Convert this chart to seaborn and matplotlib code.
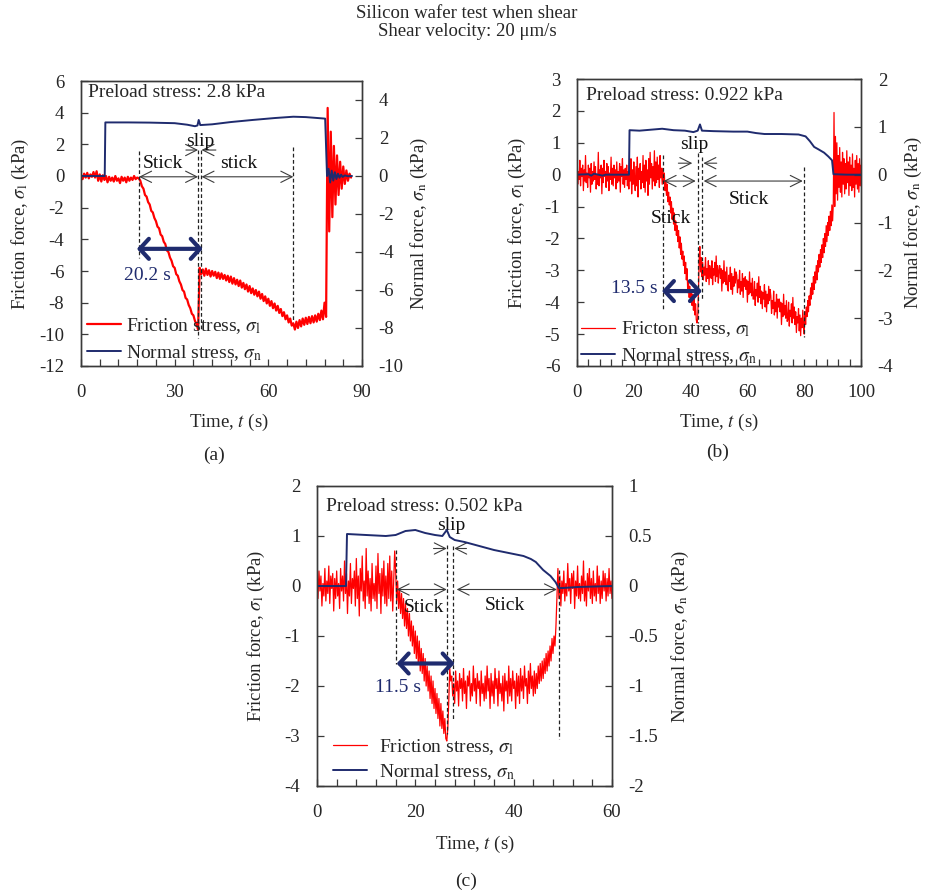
import numpy as np
import matplotlib
matplotlib.use("Agg")
import matplotlib.pyplot as plt
from matplotlib.ticker import MultipleLocator, FuncFormatter
import seaborn as sns

sns.set_theme(style="ticks")
plt.rcParams.update({
    "font.family": ["Liberation Serif", "DejaVu Serif"],
    "mathtext.fontset": "stix",
    "axes.unicode_minus": False,
    "font.size": 13.5,
})

# ---------------------------------------------------------------- data
# (a) preload 2.8 kPa, friction stress sampled every 0.5 s
fric_a = [
    0.05, -0.2, 0.15, -0.1, 0.2, -0.15, 0.1, -0.05, 0.25, -0.1,
    0.3, -0.3, 0.1, -0.35, 0.05, -0.25, 0.0, -0.4, -0.05, -0.3,
    -0.1, -0.35, 0.0, -0.3, -0.15, -0.45, -0.05, -0.3, -0.1, -0.4,
    -0.05, -0.3, -0.1, -0.25, 0.0, -0.2, -0.1, -0.15,
    -0.3, -0.65, -0.8, -1.2, -1.3, -1.65, -1.8, -2.2, -2.3, -2.65,
    -2.85, -3.2, -3.3, -3.7, -3.8, -4.15, -4.3, -4.7, -4.8, -5.15,
    -5.35, -5.7, -5.8, -6.2, -6.3, -6.65, -6.85, -7.2, -7.3, -7.7,
    -7.8, -8.15, -8.35, -8.7, -8.8, -9.15, -9.35, -9.7,
    -5.8, -6.2, -5.9, -6.3, -5.85, -6.25, -5.95, -6.35, -6.0, -6.3,
    -6.05, -6.45, -6.1, -6.5, -6.15, -6.5, -6.25, -6.6, -6.3, -6.7,
    -6.35, -6.8, -6.45, -6.85, -6.55, -6.95, -6.6, -7.05, -6.75, -7.15,
    -6.85, -7.3, -6.95, -7.4, -7.1, -7.5, -7.2, -7.6, -7.3, -7.75,
    -7.45, -7.9, -7.6, -8.05, -7.75, -8.2, -7.9, -8.35, -8.05, -8.5,
    -8.2, -8.65, -8.4, -8.85, -8.6, -9.05, -8.8, -9.25, -9.0, -9.45,
    -9.3, -9.7, -9.2, -9.6, -9.1, -9.5, -9.0, -9.4, -8.95, -9.35,
    -8.9, -9.3, -8.85, -9.25, -8.8, -9.2, -8.7, -9.1, -8.5, -9.05,
    -8.0, -8.9,
    4.3, -3.5, 2.8, -2.6, 1.9, -1.8, 1.3, -1.2, 0.9, -0.8,
    0.6, -0.5, 0.35, -0.3, 0.15, -0.1,
]
norm_t_a = [0, 7.6, 7.8, 15, 22, 30, 34, 36.5, 37.3, 37.7, 38.2, 42, 48, 55,
            62, 68, 72, 78.2, 78.8, 79.3, 79.8, 80.3, 80.8, 81.3, 81.8, 82.3,
            82.8, 83.3, 83.8, 84.5, 85.5, 86.8]
norm_a = [0, 0, 2.82, 2.82, 2.81, 2.78, 2.7, 2.62, 2.66, 2.95, 2.68, 2.72,
          2.84, 2.95, 3.05, 3.12, 3.1, 3.02, 0.0, 0.38, -0.34, 0.28, -0.24,
          0.2, -0.16, 0.12, -0.09, 0.07, -0.05, 0.03, -0.01, 0.0]

# (b) preload 0.922 kPa, friction stress sampled every 0.25 s
fric_b = [
    # 0 - 18 s, before contact loading
    0.25, -0.3, 0.1, -0.15, 0.45, -0.35, 0.2, -0.05, 0.3, -0.5, 0.15, -0.2,
    0.6, -0.25, 0.05, -0.4, 0.3, -0.1, 0.2, -0.55, 0.35, -0.3, 0.1, -0.2,
    0.4, -0.15, 0.25, -0.45, 0.0, -0.3, 0.7, -0.35, 0.15, -0.1, 0.3, -0.6,
    0.2, -0.25, 0.45, -0.05, 0.1, -0.4, 0.35, -0.2, 0.25, -0.5, 0.05, -0.15,
    0.55, -0.3, 0.2, -0.35, 0.3, -0.1, 0.15, -0.45, 0.4, -0.25, 0.1, -0.2,
    0.35, -0.55, 0.25, -0.05, 0.5, -0.3, 0.15, -0.4, 0.2, -0.15, 0.3, -0.35,
    0.1,
    # 18.25 - 30 s
    -0.45, 0.3, -0.2, 0.5, -0.6, 0.15, -0.3, 0.4, -0.1, -0.5, 0.25, -0.35,
    0.55, -0.7, 0.2, -0.15, 0.35, -0.45, 0.1, -0.25, 0.6, -0.4, 0.3, -0.55,
    0.45, -0.2, 0.15, -0.65, 0.5, -0.3, 0.7, -0.1, 0.35, -0.45, 0.25, -0.2,
    0.75, -0.35, 0.4, -0.25, 0.55, -0.15, 0.3, -0.4, 0.6, -0.1, 0.2, -0.3,
    # 30.25 - 42.25 s, first stick
    0.2, -0.25, 0.05, -0.5, -0.2, -0.65, -0.3, -0.85, -0.55, -0.95, -0.7, -1.2,
    -0.85, -1.4, -1.05, -1.55, -1.2, -1.75, -1.45, -1.9, -1.6, -2.1, -1.75, -2.3,
    -1.95, -2.5, -2.15, -2.65, -2.4, -2.85, -2.55, -3.1, -2.75, -3.3, -2.95, -3.7,
    -3.35, -3.85, -3.5, -3.95, -3.6, -4.1, -3.75, -4.25, -3.9, -4.4, -4.05, -4.55,
    -4.65,
    # 42.5 - 44 s, slip
    -4.5, -3.7, -2.7, -2.25, -3.05, -2.6, -3.2,
    # 44.25 - 80 s, second stick
    -2.75, -3.3, -2.9, -3.15, -2.6, -3.35, -2.95, -3.25, -2.7, -3.45, -2.85, -3.1,
    -3.25, -2.7, -3.45, -2.95, -3.15, -2.75, -3.35, -2.55, -3.2, -2.85, -3.4, -3.0,
    -2.85, -3.25, -2.95, -3.65, -3.0, -3.4, -2.7, -3.35, -3.05, -3.45, -2.9, -3.55,
    -3.65, -3.15, -3.35, -2.9, -3.6, -3.1, -3.75, -3.2, -3.5, -2.95, -3.4, -3.05,
    -3.15, -3.7, -3.3, -3.55, -3.0, -3.75, -3.35, -3.65, -3.1, -3.85, -3.25, -3.5,
    -3.2, -3.6, -3.3, -4.0, -3.35, -3.75, -3.05, -3.7, -3.4, -3.8, -3.25, -3.9,
    -3.9, -3.35, -4.1, -3.6, -3.8, -3.4, -4.0, -3.2, -3.85, -3.5, -4.05, -3.65,
    -4.2, -3.7, -3.9, -3.45, -4.15, -3.65, -4.3, -3.75, -4.05, -3.5, -3.95, -3.6,
    -3.8, -4.35, -3.95, -4.2, -3.65, -4.4, -4.0, -4.3, -3.75, -4.5, -3.9, -4.15,
    -3.9, -4.3, -4.0, -4.7, -4.05, -4.45, -3.75, -4.4, -4.1, -4.5, -3.95, -4.6,
    -4.55, -4.0, -4.75, -4.25, -4.45, -4.05, -4.65, -3.85, -4.5, -4.15, -4.7, -4.3,
    -4.95, -4.45, -4.65, -4.2, -4.9, -4.4, -5.05, -4.5, -4.8, -4.25, -4.7, -5.0,
    # 80.25 - 90.25 s, unloading
    -4.3, -4.7, -4.15, -4.45, -3.95, -4.3, -3.8, -4.1, -3.55, -3.9, -3.4, -3.75,
    -3.2, -3.6, -3.05, -3.4, -2.85, -3.3, -2.7, -3.05, -2.5, -2.9, -2.35, -2.75,
    -2.2, -2.6, -2.0, -2.45, -1.85, -2.25, -1.6, -2.1, -1.5, -1.9, -1.3, -1.75,
    -1.15, -1.6, -0.95, -1.45, -0.9,
    # 90.5 - 100 s, released
    1.95, -1.0, 1.2, -0.6, 1.0, -0.8, 0.6, -0.4, 0.85, -0.55, 0.4, -0.7,
    0.7, -0.3, 0.5, -0.6, 0.35, -0.45, 0.75, -0.25, 0.4, -0.65, 0.55, -0.35,
    0.3, -0.5, 0.65, -0.4, 0.2, -0.7, 0.45, -0.3, 0.6, -0.45, 0.35, -0.55,
    0.5, -0.35, 0.3,
]
norm_t_b = [0, 4, 5, 6, 9, 10, 18.3, 18.5, 22, 26, 30, 34, 38, 41, 42.5,
            43.3, 44, 48, 55, 60, 63, 66, 72, 78, 80.5, 82, 83.5, 85, 87,
            88.5, 89.8, 90.3, 95, 100]
norm_b = [0, 0.01, -0.02, 0.02, -0.02, 0, 0, 0.93, 0.92, 0.94, 0.96, 0.93,
          0.92, 0.89, 0.92, 1.05, 0.92, 0.91, 0.9, 0.9, 0.87, 0.85, 0.85,
          0.84, 0.8, 0.7, 0.58, 0.53, 0.46, 0.38, 0.3, 0.01, 0.0, 0.0]

# (c) preload 0.502 kPa, friction stress sampled every 0.2 s
fric_c = [
    # 0 - 15.8 s
    0.15, -0.25, 0.3, -0.1, 0.2, -0.4, 0.05, -0.2, 0.35, -0.3,
    0.1, -0.15, 0.4, -0.35, 0.2, -0.05, 0.25, -0.5, 0.15, -0.25,
    0.3, -0.2, 0.05, -0.45, 0.35, -0.1, 0.2, -0.3, 0.5, -0.15,
    0.25, -0.55, 0.1, -0.2, 0.45, -0.35, 0.15, -0.05, 0.3, -0.4,
    0.55, -0.25, 0.2, -0.6, 0.35, -0.1, 0.6, -0.3, 0.1, -0.45,
    0.75, -0.2, 0.3, -0.35, 0.15, -0.5, 0.45, -0.25, 0.05, -0.3,
    0.4, -0.45, 0.65, -0.15, 0.25, -0.55, 0.35, -0.2, 0.5, -0.35,
    0.2, -0.4, 0.45, -0.25, 0.6, -0.3, 0.3, -0.5, 0.1, 0.7,
    # 16.0 - 26.4 s, first stick
    0.3, -0.3, 0.1, -0.45, -0.05, -0.55, -0.15, -0.65, -0.25, -0.8,
    -0.35, -0.85, -0.45, -1.0, -0.55, -1.1, -0.7, -1.2, -0.8, -1.35,
    -0.9, -1.45, -1.0, -1.55, -1.1, -1.7, -1.25, -1.75, -1.35, -1.9,
    -1.45, -2.0, -1.6, -2.1, -1.7, -2.25, -1.8, -2.35, -1.9, -2.45,
    -2.05, -2.55, -2.15, -2.65, -2.25, -2.8, -2.35, -2.85, -2.5, -2.95,
    -2.65, -3.05, -3.1,
    # 26.6 - 27.2 s, slip
    -2.85, -2.3, -1.65, -1.9,
    # 27.4 - 44.0 s, second stick
    -1.8, -2.2, -1.95, -2.35, -1.7, -2.1, -1.9, -2.4, -1.75, -2.05, -1.85, -2.3,
    -1.65, -2.15, -1.9, -2.45, -1.8, -2.0, -1.7, -2.3, -1.95, -2.2, -1.6, -2.1,
    -1.85, -2.35, -1.75, -2.05, -1.9, -2.4, -1.7, -2.15, -1.95, -2.3, -1.8, -2.25,
    -1.6, -2.1, -1.85, -2.45, -1.75, -2.2, -1.9, -2.35, -1.65, -2.05, -1.85, -2.4,
    -1.7, -2.15, -1.95, -2.3, -1.8, -2.5, -1.75, -2.1, -1.9, -2.35, -1.6, -2.2,
    -1.85, -2.3, -1.7, -2.05, -1.9, -2.45, -1.75, -2.2, -1.8, -2.35, -1.65, -2.1,
    -1.8, -2.25, -1.6, -2.0, -1.85, -2.35, -1.7, -2.15, -1.55, -2.05, -1.8, -2.2,
    # 44.2 - 48.4 s, unloading
    -1.7, -2.15, -1.75, -2.05, -1.6, -1.95, -1.55, -1.9, -1.5, -1.85, -1.45,
    -1.75, -1.35, -1.7, -1.3, -1.6, -1.2, -1.5, -1.05, -1.35, -1.0, -1.2,
    # 48.6 - 48.8 s
    -0.8, -0.2,
    # 49.0 - 60.0 s, released
    0.35, -0.25, 0.2, -0.4, 0.1, -0.15, 0.3, -0.3, 0.05, -0.2, 0.45, -0.1,
    0.15, -0.35, 0.25, -0.05, 0.3, -0.45, 0.1, -0.2, 0.4, -0.25, 0.05, -0.3,
    0.2, -0.15, 0.5, -0.3, 0.1, -0.4, 0.25, -0.1, 0.35, -0.25, 0.15, -0.35,
    0.3, -0.2, 0.05, -0.3, 0.4, -0.15, 0.2, -0.35, 0.1, -0.25, 0.3, -0.1,
    0.25, -0.3, 0.15, -0.2, 0.35, -0.15, 0.1, -0.25,
]
norm_t_c = [0, 5.9, 6.1, 10, 14, 16, 18, 20, 22, 24, 25.5, 26.4, 27, 28, 30,
            33, 36, 39, 42, 43.5, 44.5, 46, 47.5, 48.5, 49.2, 50, 53, 60]
norm_c = [0, 0, 0.52, 0.51, 0.5, 0.51, 0.55, 0.56, 0.53, 0.51, 0.5, 0.56,
          0.49, 0.46, 0.44, 0.4, 0.36, 0.33, 0.3, 0.27, 0.24, 0.16, 0.1,
          0.04, -0.02, -0.02, -0.01, 0.0]

# event markers: (time, top, bottom) of the dashed guides
guides_a = [(18.6, 1.55, -5.2), (37.6, 1.65, -10.2), (38.4, 1.65, -9.8), (68.0, 1.85, -9.1)]
guides_b = [(30.4, 0.62, -4.2), (42.5, 0.67, -4.65), (44.1, 0.56, -3.9), (79.9, 0.25, -5.1)]
guides_c = [(16.05, 0.72, -1.55), (26.5, 0.82, -2.95), (27.6, 0.8, -2.7), (49.3, 0.32, -3.05)]

RED = "#ff0000"
NAVY = "#1f2b6e"
ARROW = "#3c3c3c"
SPINE = "#3a3a3a"

fig = plt.figure(figsize=(9.25, 8.92), dpi=100)


def fmt(v, _):
    return f"{v:g}"


def build(rect, t_f, f, t_n, n, xlim, xmaj, xmin, flim, fstep, nlim, nstep,
          label_x, ylab_l, ylab_r, red_lw=0.9):
    ax = fig.add_axes(rect)
    sns.lineplot(x=np.asarray(t_f), y=np.asarray(f), ax=ax, color=RED, lw=red_lw,
                 estimator=None, sort=False, zorder=2)
    red = ax.lines[-1]
    ax2 = ax.twinx()
    sns.lineplot(x=np.asarray(t_n), y=np.asarray(n), ax=ax2, color=NAVY, lw=1.4,
                 estimator=None, sort=False)
    blue = ax2.lines[-1]
    ax.set_xlim(*xlim)
    ax.set_ylim(*flim)
    ax2.set_ylim(*nlim)
    ax.xaxis.set_major_locator(MultipleLocator(xmaj))
    ax.xaxis.set_minor_locator(MultipleLocator(xmin))
    ax.yaxis.set_major_locator(MultipleLocator(fstep))
    ax2.yaxis.set_major_locator(MultipleLocator(nstep))
    for a in (ax, ax2):
        a.yaxis.set_major_formatter(FuncFormatter(fmt))
        for s in a.spines.values():
            s.set_visible(True)
            s.set_color(SPINE)
            s.set_linewidth(1.0)
    ax.xaxis.set_major_formatter(FuncFormatter(fmt))
    ax.tick_params(axis="x", which="both", direction="in", length=5, width=0.9,
                   color=SPINE, pad=13, labelsize=13.5, bottom=True, top=False)
    ax.tick_params(axis="y", which="both", direction="in", length=5, width=0.9,
                   color=SPINE, pad=12, labelsize=13.5, left=True, right=False)
    ax2.tick_params(axis="y", which="both", direction="in", length=5, width=0.9,
                    color=SPINE, pad=12, labelsize=13.5, right=True, left=False)
    ax.set_xlabel("Time, $t$ (s)", fontsize=13.5)
    ax.xaxis.set_label_coords(label_x, -0.16)
    ax.set_ylabel(r"Friction force, $\sigma_{\mathrm{l}}$ (kPa)", fontsize=13.5)
    ax.yaxis.set_label_coords(ylab_l, 0.5)
    ax2.set_ylabel(r"Normal force, $\sigma_{\mathrm{n}}$ (kPa)", fontsize=13.5)
    ax2.yaxis.set_label_coords(ylab_r, 0.5)
    ax.set_facecolor("white")
    return ax, ax2, red, blue


def guides(ax, marks):
    for t, y0, y1 in marks:
        ax.plot([t, t], [y0, y1], color="#222222", lw=0.9, ls=(0, (3, 2)), zorder=4)


def span(ax, t0, t1, y, style="<->"):
    ax.annotate("", xy=(t1, y), xytext=(t0, y), zorder=5,
                arrowprops=dict(arrowstyle=f"{style},head_length=0.6,head_width=0.3",
                                color=ARROW, lw=0.8, shrinkA=0, shrinkB=0))


def duration(ax, t0, t1, y):
    ax.annotate("", xy=(t1, y), xytext=(t0, y), zorder=6,
                arrowprops=dict(arrowstyle="<->,head_length=0.55,head_width=0.6",
                                color=NAVY, lw=3.0, shrinkA=0, shrinkB=0,
                                mutation_scale=12))


def label(ax, x, y, s, color="#111111"):
    ax.text(x, y, s, ha="center", va="center", fontsize=14, color=color, zorder=7)


def legend(ax2, red, blue, names, anchor, handletextpad=0.3, spacing=0.35):
    ax2.legend(handles=[red, blue], labels=names, loc="lower left",
               bbox_to_anchor=anchor, frameon=False, borderpad=0, borderaxespad=0,
               handlelength=1.75, handletextpad=handletextpad,
               labelspacing=spacing, fontsize=14)


# ---------------------------------------------------------------- panel (a)
ax, ax2, red, blue = build(
    [81 / 925, 1 - 366 / 892, 281 / 925, 285 / 892],
    0.5 * np.arange(len(fric_a)), fric_a, norm_t_a, norm_a,
    (0, 90), 30, 6, (-12, 6), 2, (-10, 5), 2,
    0.527, -0.178, 1.167, red_lw=1.6)
guides(ax, guides_a)
span(ax, 18.6, 37.5, -0.05)
span(ax, 38.6, 68.0, -0.05)
span(ax, 33.6, 37.5, 1.64, "->")
span(ax, 43.2, 38.6, 1.64, "->")
label(ax, 26.3, 0.78, "Stick")
label(ax, 38.1, 2.15, "slip")
label(ax, 50.4, 0.78, "stick")
duration(ax, 17.9, 39.0, -4.6)
label(ax, 21.2, -6.3, "20.2 s", NAVY)
ax.text(0.025, 0.945, "Preload stress: 2.8 kPa", transform=ax.transAxes,
        ha="left", va="baseline", fontsize=14, zorder=7)
legend(ax2, red, blue, [r"Friction stress, $\sigma_{\mathrm{l}}$",
                        r"Normal stress, $\sigma_{\mathrm{n}}$"], (0.02, 0.012))

# ---------------------------------------------------------------- panel (b)
ax, ax2, red, blue = build(
    [577 / 925, 1 - 366 / 892, 284 / 925, 287 / 892],
    0.25 * np.arange(len(fric_b)), fric_b, norm_t_b, norm_b,
    (0, 100), 20, 4, (-6, 3), 1, (-4, 2), 1,
    0.5, -0.173, 1.148)
guides(ax, guides_b)
span(ax, 30.5, 41.8, -0.2)
span(ax, 44.6, 79.5, -0.2)
span(ax, 35.7, 40.6, 0.36, "->")
span(ax, 49.2, 44.5, 0.36, "->")
label(ax, 33.0, -1.36, "Stick")
label(ax, 60.5, -0.78, "Stick")
label(ax, 41.4, 0.95, "slip")
duration(ax, 29.9, 44.0, -3.65)
label(ax, 20.3, -3.56, "13.5 s", NAVY)
ax.text(0.032, 0.927, "Preload stress: 0.922 kPa", transform=ax.transAxes,
        ha="left", va="baseline", fontsize=14, zorder=7)
legend(ax2, red, blue, [r"Fricton stress, $\sigma_{\mathrm{l}}$",
                        r"Normal stress, $\sigma_{\mathrm{n}}$"], (0.013, 0.0))

# ---------------------------------------------------------------- panel (c)
ax, ax2, red, blue = build(
    [317 / 925, 1 - 786 / 892, 295 / 925, 300 / 892],
    0.2 * np.arange(len(fric_c)), fric_c, norm_t_c, norm_c,
    (0, 60), 20, 4, (-4, 2), 1, (-2, 1), 0.5,
    0.536, -0.169, 1.197)
guides(ax, guides_c)
span(ax, 16.2, 26.4, -0.07)
span(ax, 28.4, 48.8, -0.07)
span(ax, 23.7, 26.4, 0.75, "->")
span(ax, 30.4, 27.9, 0.75, "->")
label(ax, 21.7, -0.43, "Stick")
label(ax, 38.3, -0.4, "Stick")
label(ax, 27.3, 1.2, "slip")
duration(ax, 16.2, 28.0, -1.55)
label(ax, 16.5, -2.03, "11.5 s", NAVY)
ax.text(0.03, 0.918, "Preload stress: 0.502 kPa", transform=ax.transAxes,
        ha="left", va="baseline", fontsize=14, zorder=7)
legend(ax2, red, blue, [r"Friction stress, $\sigma_{\mathrm{l}}$",
                        r"Normal stress, $\sigma_{\mathrm{n}}$"], (0.053, 0.015),
       handletextpad=0.65, spacing=0.25)

# ---------------------------------------------------------------- captions
fig.text(467 / 925, 1 - 14 / 892, "Silicon wafer test when shear",
         ha="center", va="center", fontsize=13.5)
fig.text(467 / 925, 1 - 32 / 892, "Shear velocity: 20 \u03bcm/s",
         ha="center", va="center", fontsize=13.5)
fig.text(214 / 925, 1 - 455 / 892, "(a)", ha="center", va="center", fontsize=14)
fig.text(718 / 925, 1 - 452 / 892, "(b)", ha="center", va="center", fontsize=14)
fig.text(466 / 925, 1 - 881 / 892, "(c)", ha="center", va="center", fontsize=14)

fig.savefig("out.png", dpi=100, facecolor="white")
